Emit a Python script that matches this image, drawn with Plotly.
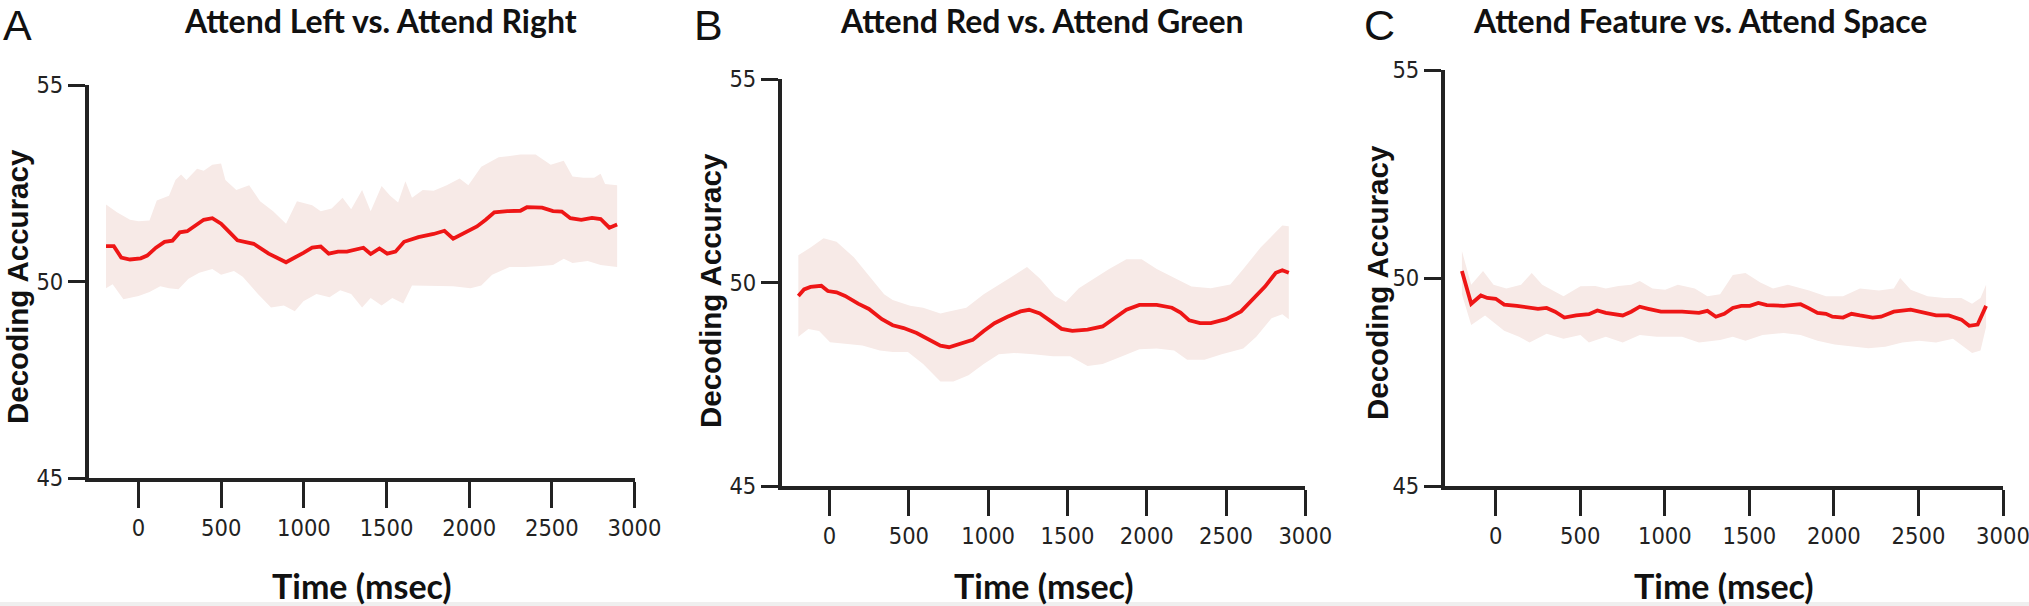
import plotly.graph_objects as go

W, H = 2029, 606

# ---------------- Data ----------------
# Panel A: Attend Left vs. Attend Right
a_mean_t = [-197, -150, -105, -52, 13, 52, 105, 157, 205, 249, 294, 354, 394, 446, 499, 551, 598, 696, 787, 892,
            945, 997, 1050, 1102, 1150, 1207, 1260, 1312, 1360, 1404, 1457, 1504, 1554, 1606, 1693, 1785, 1850, 1903,
            1969, 2047, 2100, 2152, 2231, 2310, 2349, 2441, 2507, 2560, 2612, 2678, 2743, 2795, 2848, 2895]
a_mean_v = [50.90, 50.90, 50.61, 50.56, 50.59, 50.66, 50.86, 51.01, 51.04, 51.25, 51.28, 51.47, 51.57, 51.61, 51.47,
            51.25, 51.05, 50.96, 50.71, 50.49, 50.60, 50.73, 50.86, 50.89, 50.71, 50.76, 50.76, 50.81, 50.86, 50.70,
            50.84, 50.71, 50.76, 51.01, 51.13, 51.21, 51.29, 51.09, 51.22, 51.40, 51.57, 51.76, 51.79, 51.80, 51.89,
            51.88, 51.79, 51.78, 51.61, 51.57, 51.62, 51.59, 51.37, 51.45]
a_up_t = [-197, -131, -52, 0, 66, 110, 184, 223, 257, 289, 354, 394, 446, 499, 525, 591, 669, 735, 814, 892, 958,
          1050, 1102, 1168, 1234, 1286, 1352, 1404, 1470, 1522, 1570, 1614, 1654, 1719, 1785, 1864, 1942, 1995, 2073,
          2178, 2310, 2402, 2493, 2572, 2625, 2690, 2756, 2795, 2822, 2895]
a_up_v = [51.96, 51.76, 51.57, 51.53, 51.55, 52.06, 52.18, 52.58, 52.72, 52.58, 52.87, 52.82, 52.97, 53.00, 52.58,
          52.33, 52.45, 52.04, 51.79, 51.47, 52.04, 51.94, 51.79, 51.86, 52.13, 51.84, 52.33, 51.79, 52.43, 52.18,
          52.01, 52.55, 52.13, 52.33, 52.31, 52.45, 52.62, 52.45, 52.92, 53.16, 53.23, 53.23, 52.97, 53.07, 52.67,
          52.64, 52.64, 52.74, 52.48, 52.45]
a_lo_t = [-197, -157, -92, 0, 66, 131, 184, 241, 302, 367, 446, 499, 577, 630, 722, 801, 879, 945, 997, 1076, 1155,
          1220, 1286, 1352, 1404, 1470, 1535, 1601, 1654, 1759, 1903, 2008, 2073, 2139, 2244, 2336, 2415, 2507, 2572,
          2625, 2717, 2795, 2895]
a_lo_v = [49.83, 49.93, 49.55, 49.63, 49.73, 49.88, 49.83, 49.80, 50.07, 50.22, 50.32, 50.17, 50.27, 50.12, 49.68,
          49.34, 49.39, 49.24, 49.50, 49.68, 49.60, 49.78, 49.68, 49.34, 49.58, 49.39, 49.58, 49.44, 49.90, 49.90,
          49.88, 49.83, 49.90, 50.17, 50.37, 50.37, 50.39, 50.42, 50.58, 50.47, 50.52, 50.42, 50.37]

# Panel B: Attend Red vs. Attend Green
b_mean_t = [-197, -161, -120, -52, -11, 44, 98, 180, 248, 330, 398, 467, 549, 630, 699, 753, 835, 903, 972, 1040,
            1122, 1204, 1258, 1326, 1395, 1463, 1531, 1627, 1722, 1790, 1872, 1954, 2063, 2159, 2213, 2268, 2336,
            2404, 2500, 2595, 2664, 2746, 2814, 2855, 2896]
b_mean_v = [49.67, 49.83, 49.89, 49.92, 49.79, 49.76, 49.67, 49.48, 49.35, 49.10, 48.95, 48.88, 48.76, 48.59, 48.45,
            48.41, 48.50, 48.59, 48.81, 49.00, 49.16, 49.29, 49.33, 49.24, 49.05, 48.86, 48.81, 48.84, 48.92, 49.10,
            49.33, 49.45, 49.45, 49.38, 49.26, 49.07, 49.00, 49.00, 49.10, 49.29, 49.57, 49.90, 50.24, 50.30, 50.24]
b_up_t = [-197, -120, -38, 44, 153, 262, 344, 398, 508, 590, 699, 753, 862, 972, 1053, 1149, 1245, 1326, 1422, 1490,
          1572, 1668, 1763, 1872, 1968, 2063, 2173, 2282, 2404, 2527, 2609, 2718, 2814, 2855, 2896]
b_up_v = [50.67, 50.86, 51.09, 51.00, 50.62, 50.10, 49.71, 49.57, 49.43, 49.38, 49.24, 49.29, 49.38, 49.71, 49.90,
          50.14, 50.38, 50.10, 49.67, 49.52, 49.86, 50.10, 50.33, 50.57, 50.57, 50.33, 50.11, 49.90, 49.86, 49.95,
          50.33, 50.86, 51.24, 51.40, 51.38]
b_lo_t = [-197, -134, -66, 3, 98, 207, 317, 398, 494, 590, 699, 781, 876, 972, 1067, 1163, 1285, 1408, 1517, 1627,
          1722, 1845, 1954, 2063, 2173, 2255, 2364, 2473, 2609, 2691, 2787, 2855, 2896]
b_lo_v = [48.67, 48.86, 48.81, 48.53, 48.50, 48.45, 48.33, 48.29, 48.29, 48.00, 47.57, 47.57, 47.72, 48.00, 48.24,
          48.27, 48.24, 48.19, 48.19, 47.95, 48.00, 48.19, 48.36, 48.38, 48.33, 48.10, 48.10, 48.24, 48.38, 48.67,
          49.12, 49.22, 49.10]

# Panel C: Attend Feature vs. Attend Space
c_mean_t = [-200, -145, -88, -50, 0, 50, 125, 200, 250, 301, 351, 406, 476, 551, 601, 651, 701, 751, 801, 852, 902,
            977, 1102, 1202, 1252, 1302, 1352, 1402, 1452, 1503, 1553, 1603, 1703, 1803, 1853, 1903, 1953, 1991, 2054,
            2104, 2154, 2229, 2279, 2354, 2454, 2529, 2604, 2679, 2754, 2800, 2850, 2900]
c_mean_v = [50.17, 49.38, 49.58, 49.52, 49.50, 49.36, 49.33, 49.28, 49.26, 49.28, 49.19, 49.05, 49.10, 49.13, 49.22,
            49.16, 49.14, 49.10, 49.19, 49.31, 49.26, 49.19, 49.19, 49.16, 49.21, 49.07, 49.14, 49.28, 49.33, 49.33,
            49.40, 49.35, 49.33, 49.37, 49.27, 49.16, 49.14, 49.07, 49.05, 49.14, 49.10, 49.05, 49.07, 49.19, 49.24,
            49.16, 49.10, 49.10, 49.00, 48.85, 48.88, 49.33]
c_up_t = [-200, -145, -75, -13, 63, 150, 213, 275, 401, 501, 589, 651, 726, 801, 852, 927, 1002, 1077, 1177, 1252,
          1327, 1402, 1477, 1565, 1640, 1728, 1853, 1953, 2054, 2154, 2266, 2354, 2392, 2454, 2554, 2654, 2754, 2817,
          2867, 2900]
c_up_v = [50.65, 49.84, 50.17, 49.84, 49.75, 49.84, 50.12, 49.84, 49.56, 49.80, 49.81, 49.75, 49.81, 49.84, 49.93,
          49.75, 49.72, 49.84, 49.75, 49.56, 49.61, 50.07, 50.12, 49.89, 49.75, 49.84, 49.70, 49.56, 49.56, 49.75,
          49.70, 49.75, 50.00, 49.72, 49.56, 49.52, 49.52, 49.38, 49.52, 49.84]
c_lo_t = [-200, -145, -63, 50, 138, 200, 301, 401, 501, 551, 651, 751, 852, 952, 1102, 1202, 1327, 1402, 1477, 1578,
          1703, 1803, 1903, 2004, 2104, 2204, 2304, 2404, 2504, 2604, 2704, 2780, 2817, 2867, 2900]
c_lo_v = [49.61, 48.87, 49.10, 48.73, 48.59, 48.45, 48.66, 48.54, 48.63, 48.45, 48.59, 48.45, 48.63, 48.59, 48.59,
          48.45, 48.51, 48.59, 48.49, 48.63, 48.68, 48.63, 48.49, 48.40, 48.35, 48.31, 48.35, 48.45, 48.49, 48.45,
          48.54, 48.31, 48.20, 48.26, 48.82]

panel_titles = ["Attend Left vs. Attend Right", "Attend Red vs. Attend Green", "Attend Feature vs. Attend Space"]
panel_letters = ["A", "B", "C"]
x_tickvals = [0, 500, 1000, 1500, 2000, 2500, 3000]
x_ticktext = ["0", "500", "1000", "1500", "2000", "2500", "3000"]
y_tickvals = [45, 50, 55]
y_ticktext = ["45", "50", "55"]
x_title = "Time (msec)"
y_title = "Decoding Accuracy"

# ---------------- Layout geometry (pixels) ----------------
# (x_left, x_right, y_bottom(45), y_top(55))
boxes = [(89, 634.5, 478, 85), (782, 1305.3, 486, 79), (1445, 2003, 486, 70)]
title_cx = [380, 1042, 1700]
letter_x = [1, 692, 1362]
ytitle_cx = [17, 710, 1377]
ytitle_cy = [287, 291, 283]


def fx(px):
    return px / W


def fy(py):
    return 1 - py / H


LINE = "rgb(238,22,22)"
BAND = "rgb(247,234,231)"
AX = "#222222"
TICKFONT = dict(family="Liberation Sans Narrow, DejaVu Sans Condensed, Liberation Sans, Arial", size=23.5, color=AX)
BOLD_TITLE = "Lato, Carlito, Calibri, Open Sans, sans-serif"

series = [
    (a_mean_t, a_mean_v, a_up_t, a_up_v, a_lo_t, a_lo_v),
    (b_mean_t, b_mean_v, b_up_t, b_up_v, b_lo_t, b_lo_v),
    (c_mean_t, c_mean_v, c_up_t, c_up_v, c_lo_t, c_lo_v),
]

fig = go.Figure()
annotations = []
layout = {}

for i, (mt, mv, ut, uv, lt, lv) in enumerate(series):
    n = "" if i == 0 else str(i + 1)
    xa, ya = "x" + n, "y" + n
    # band polygon: upper edge then lower edge reversed
    fig.add_trace(go.Scatter(
        x=ut + lt[::-1], y=uv + lv[::-1], xaxis=xa, yaxis=ya,
        mode="lines", fill="toself", fillcolor=BAND, line=dict(width=0, color=BAND),
        hoverinfo="skip", showlegend=False))
    fig.add_trace(go.Scatter(
        x=mt, y=mv, xaxis=xa, yaxis=ya, mode="lines",
        line=dict(color=LINE, width=3.8), showlegend=False))

    xl, xr, yb, yt = boxes[i]
    layout["xaxis" + n] = dict(
        domain=[fx(xl), fx(xr)], range=[-300, 3000], anchor=ya, automargin=False,
        showline=True, linewidth=4, linecolor=AX, showgrid=False, zeroline=False,
        ticks="outside", ticklen=26, tickwidth=3, tickcolor=AX, ticklabeloverflow="allow",
        tickvals=x_tickvals, ticktext=x_ticktext, tickfont=TICKFONT, fixedrange=True)
    layout["yaxis" + n] = dict(
        domain=[fy(yb), fy(yt)], range=[45, 55], anchor=xa, automargin=False,
        showline=True, linewidth=4, linecolor=AX, showgrid=False, zeroline=False,
        ticks="outside", ticklen=17, tickwidth=3, tickcolor=AX, ticklabeloverflow="allow",
        tickvals=y_tickvals, ticktext=y_ticktext, tickfont=TICKFONT, fixedrange=True)

    # panel title
    annotations.append(dict(text="<b>" + panel_titles[i] + "</b>", x=fx(title_cx[i]), y=fy(20.5),
                            xref="paper", yref="paper", xanchor="center", yanchor="middle", showarrow=False,
                            font=dict(family=BOLD_TITLE, size=32, color="#111111")))
    # panel letter
    annotations.append(dict(text=panel_letters[i], x=fx(letter_x[i]), y=fy(25),
                            xref="paper", yref="paper", xanchor="left", yanchor="middle", showarrow=False,
                            font=dict(family="Liberation Sans, Arial", size=43, color="#111111")))
    # x-axis title
    annotations.append(dict(text="<b>" + x_title + "</b>", x=fx((xl + xr) / 2), y=fy(585),
                            xref="paper", yref="paper", xanchor="center", yanchor="middle", showarrow=False,
                            font=dict(family=BOLD_TITLE, size=34, color="#111111")))
    # y-axis title
    annotations.append(dict(text="<b>" + y_title + "</b>", x=fx(ytitle_cx[i]), y=fy(ytitle_cy[i]),
                            xref="paper", yref="paper", xanchor="center", yanchor="middle", showarrow=False,
                            textangle=-90,
                            font=dict(family="Liberation Sans, Arial", size=29.5, color="#111111")))

# faint grey strip along the bottom edge of the original image
shapes = [dict(type="rect", xref="paper", yref="paper", x0=0, x1=1, y0=fy(606), y1=fy(602),
               line=dict(width=0), fillcolor="#efefef", layer="below")]

fig.update_layout(
    width=W, height=H, margin=dict(l=0, r=0, t=0, b=0, autoexpand=False),
    paper_bgcolor="white", plot_bgcolor="white",
    annotations=annotations, shapes=shapes, showlegend=False, **layout)

fig.write_html("out.html", config={"displayModeBar": False},
               post_script="document.body.style.margin='0';document.body.style.overflow='hidden';")
